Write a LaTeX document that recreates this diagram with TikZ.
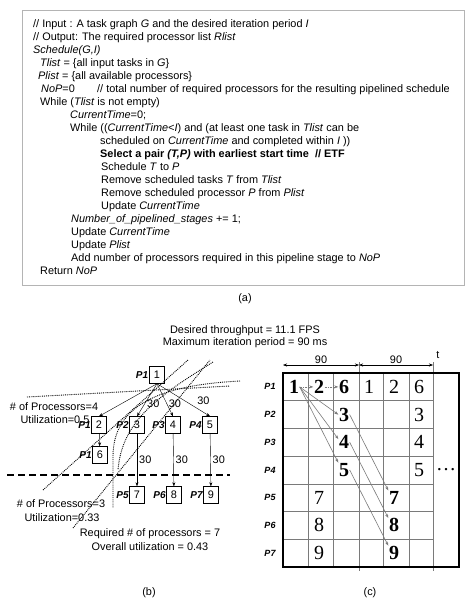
\documentclass[tikz,border=0pt]{standalone}
\usepackage{fontspec}
\setmainfont{Liberation Sans}
\newfontfamily\timesfont{Liberation Serif}
\usetikzlibrary{arrows.meta, positioning, calc}
\definecolor{boxgray}{HTML}{B4B4B4}
\definecolor{gridgray}{HTML}{7A7A7A}
\tikzset{
  code/.style={anchor=base west, inner sep=0pt, font=\fontsize{10.9}{13}\selectfont},
  txt/.style={inner sep=0pt, font=\fontsize{10.9}{13}\selectfont},
  lbl/.style={inner sep=2pt, font=\fontsize{10.9}{13}\selectfont},
  task/.style={rectangle, draw, fill=white, thin, minimum width=15pt,
               minimum height=17pt, inner sep=0pt, font=\fontsize{10.9}{13}\selectfont},
  plbl/.style={inner sep=0pt, font=\fontsize{10}{12}\selectfont\bfseries\itshape},
  rlbl/.style={inner sep=0pt, font=\fontsize{9}{11}\selectfont\bfseries\itshape},
  arr/.style={-{Stealth[length=4pt]}, thin, #1},
  arr/.default=black,
  stage/.style={densely dotted, line width=0.9pt},
  cell/.style={inner sep=0.5pt, font=\timesfont\fontsize{20}{20}\selectfont},
  cellb/.style={inner sep=0.5pt, font=\timesfont\fontsize{20}{20}\selectfont\bfseries},
  garr/.style={-{Stealth[length=4pt]}, gridgray, line width=0.6pt},
  gline/.style={gridgray, line width=0.6pt},
  darr/.style={{Stealth[length=4pt]}-{Stealth[length=4pt]}, thin},
}
\begin{document}
\begin{tikzpicture}[x=1pt, y=-1pt]
  \useasboundingbox[fill=white] (0,0) rectangle (474,603);

  % (a) listing
  \draw[boxgray, line width=0.8pt] (22,10) rectangle (464,285);
  \node[code] (l1) at (33,27) {// Input : A task graph \textit{G} and the desired iteration period \textit{I}};
  \node[code] (l2) at (33,40) {// Output: The required processor list \textit{Rlist}};
  \node[code] (l3) at (33,53) {\textit{Schedule(G,I)}};
  \node[code] (l4) at (40,66) {\textit{Tlist} = \{all input tasks in \textit{G}\}};
  \node[code] (l5) at (38,79) {\textit{Plist} = \{all available processors\}};
  \node[code] (l6) at (41,92) {\textit{NoP}=0};
  \node[code] (l6c) at (97,92) {// total number of required processors for the resulting pipelined schedule};
  \node[code] (l7) at (40,105) {While (\textit{Tlist} is not empty)};
  \node[code] (l8) at (70,118) {\textit{CurrentTime}=0;};
  \node[code] (l9) at (70,131) {While ((\textit{CurrentTime<I}) and (at least one task in \textit{Tlist} can be};
  \node[code] (l10) at (100,144) {scheduled on \textit{CurrentTime} and completed within \textit{I} ))};
  \node[code] (l11) at (100,157) {\bfseries Select a pair \textit{(T,P)} with earliest start time \ // ETF};
  \node[code] (l12) at (101,170) {Schedule \textit{T} to \textit{P}};
  \node[code] (l13) at (101,183) {Remove scheduled tasks \textit{T} from \textit{Tlist}};
  \node[code] (l14) at (101,196) {Remove scheduled processor \textit{P} from \textit{Plist}};
  \node[code] (l15) at (101,209) {Update \textit{CurrentTime}};
  \node[code] (l16) at (71,222) {\textit{Number\_of\_pipelined\_stages} += 1;};
  \node[code] (l17) at (71,235) {Update \textit{CurrentTime}};
  \node[code] (l18) at (71,248) {Update \textit{Plist}};
  \node[code] (l19) at (71,261) {Add number of processors required in this pipeline stage to \textit{NoP}};
  \node[code] (l20) at (40,274) {Return \textit{NoP}};
  \node[txt] (capa) at (245,299) {(a)};

  % header
  \node[txt] (fps) at (245,331) {Desired throughput = 11.1 FPS};
  \node[txt] (period) at (245,343) {Maximum iteration period = 90 ms};

  % (b) task graph
  \node[task] (t1) at (157,375) {1};
  \node[task] (t2) at (99,425) {2};
  \node[task] (t3) at (137,425) {3};
  \node[task] (t4) at (173,425) {4};
  \node[task] (t5) at (210,425) {5};
  \node[task] (t6) at (100,455) {6};
  \node[task] (t7) at (137,495) {7};
  \node[task] (t8) at (174,495) {8};
  \node[task] (t9) at (211,495) {9};

  \node[plbl, left=1pt of t1] (p1a) {P1};
  \node[plbl, left=0.5pt of t2] (p1b) {P1};
  \node[plbl, left=0.5pt of t3] (p2) {P2};
  \node[plbl, left=0.5pt of t4] (p3) {P3};
  \node[plbl, left=0.5pt of t5] (p4) {P4};
  \node[plbl, left=0.5pt of t6] (p1c) {P1};
  \node[plbl, left=0.5pt of t7] (p5) {P5};
  \node[plbl, left=0.5pt of t8] (p6) {P6};
  \node[plbl, left=0.5pt of t9] (p7) {P7};

  \draw[arr] (t1.south) -- (t2.north);
  \draw[arr] (t1.south) -- node[lbl, right, pos=0.6] {30} (t3.north);
  \draw[arr] (t1.south) -- node[lbl, right, pos=0.6] {30} (t4.north);
  \draw[arr] (t1.south) -- node[lbl, above right, pos=0.72] {30} (t5.north);
  \draw[arr] (t2) -- (t6);
  \draw[arr] (t3) -- node[lbl, right] {30} (t7);
  \draw[arr] (t4) -- node[lbl, right] {30} (t8);
  \draw[arr] (t5) -- node[lbl, right] {30} (t9);

  % stage borders
  \draw[stage] (43,490) -- (188,360);
  \draw[stage] (73,528) -- (210,360);
  \draw[stage] (27,397) -- (230,386);
  \draw[stage] (240,381) .. controls (160,385) and (114,405) .. (113,455) -- (113,508);
  \draw[stage] (213,362) .. controls (160,395) and (122,420) .. (118,470);
  \draw[line width=1.6pt, dash pattern=on 7pt off 4pt] (7,475) -- (230,475);

  \node[txt] (np4) at (54,407) {\# of Processors=4};
  \node[txt] (ut4) at (55,420) {Utilization=0.5};
  \node[txt] (np3) at (61,504) {\# of Processors=3};
  \node[txt] (ut3) at (62,518) {Utilization=0.33};
  \node[txt] (reqp) at (150,534) {Required \# of processors = 7};
  \node[txt] (overall) at (150,547) {Overall utilization = 0.43};
  \node[txt] (capb) at (149,593) {(b)};

  % (c) schedule table
  \foreach \y in {400.7,428.4,456.1,483.9,511.6,539.3}
    \draw[gline] (283,\y) -- (433,\y);
  \foreach \x in {308,333,383,409}
    \draw[gline] (\x,373) -- (\x,567);
  \draw[gridgray, line width=0.9pt] (359,362) -- (359,571);
  \draw[gridgray, line width=0.9pt] (433,362) -- (433,571);
  \draw[line width=1.2pt] (283,373) rectangle (459,567);

  \coordinate (m0) at (283,365);
  \coordinate (m1) at (359,365);
  \coordinate (m2) at (433,365);
  \draw[darr] (m0) -- node[lbl, above, inner sep=1pt] {90} (m1);
  \draw[darr] (m1) -- node[lbl, above, inner sep=1pt] {90} (m2);
  \node[txt] (tlab) at (438,355) {t};

  \foreach \r in {1,...,7}
    \node[rlbl] (r\r) at (270,{373+27.71*(\r-0.5)}) {P\r};

  \node[cellb] (c11) at (294,386.9) {1};
  \node[cellb] (c12) at (319,386.9) {2};
  \node[cellb] (c13) at (344,386.9) {6};
  \node[cell] (c14) at (369,386.9) {1};
  \node[cell] (c15) at (394,386.9) {2};
  \node[cell] (c16) at (419,386.9) {6};
  \node[cellb] (c23) at (344,414.6) {3};
  \node[cell] (c26) at (419,414.6) {3};
  \node[cellb] (c33) at (344,442.3) {4};
  \node[cell] (c36) at (419,442.3) {4};
  \node[cellb] (c43) at (344,470) {5};
  \node[cell] (c46) at (419,470) {5};
  \node[cell] (c47) at (446,470) {\ldots};
  \node[cell] (c52) at (319,497.7) {7};
  \node[cellb] (c55) at (394,497.7) {7};
  \node[cell] (c62) at (319,525.4) {8};
  \node[cellb] (c65) at (394,525.4) {8};
  \node[cell] (c72) at (319,553.1) {9};
  \node[cellb] (c75) at (394,553.1) {9};

  \draw[garr, densely dotted] (c11) -- (c12);
  \draw[garr, densely dotted] (c12) -- (c13);
  \draw[garr] (c11.east) -- (c23.west);
  \draw[garr] (c11.east) -- (c33.150);
  \draw[garr] (c11.east) -- (c43.north west);
  \draw[garr] (c23.east) -- (c55.north west);
  \draw[garr] (c33.east) -- (c65.north west);
  \draw[garr] (c43.east) -- (c75.north west);
  \node[txt] (capc) at (370,593) {(c)};
\end{tikzpicture}
\end{document}
